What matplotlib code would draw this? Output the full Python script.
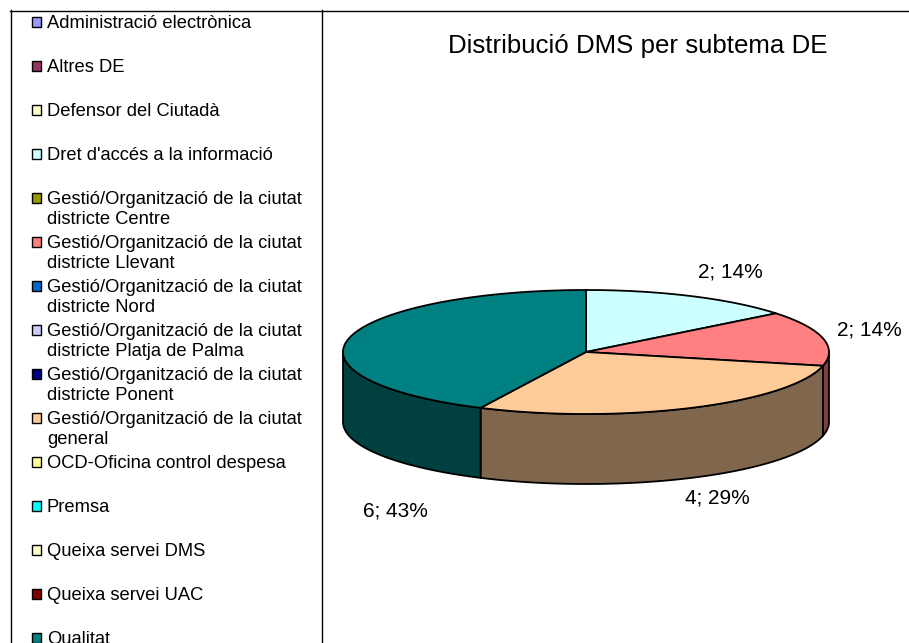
import numpy as np
import matplotlib
matplotlib.use("Agg")
import matplotlib.pyplot as plt
from matplotlib.patches import Polygon, Rectangle
from matplotlib.colors import to_rgb

# ---------------- data ----------------
title = "Distribució DMS per subtema DE"

legend_labels = [
    "Administració electrònica",
    "Altres DE",
    "Defensor del Ciutadà",
    "Dret d'accés a la informació",
    "Gestió/Organització de la ciutat\ndistricte Centre",
    "Gestió/Organització de la ciutat\ndistricte Llevant",
    "Gestió/Organització de la ciutat\ndistricte Nord",
    "Gestió/Organització de la ciutat\ndistricte Platja de Palma",
    "Gestió/Organització de la ciutat\ndistricte Ponent",
    "Gestió/Organització de la ciutat\ngeneral",
    "OCD-Oficina control despesa",
    "Premsa",
    "Queixa servei DMS",
    "Queixa servei UAC",
    "Qualitat",
]
legend_colors = [
    "#9999FF", "#993366", "#FFFFCC", "#CCFFFF", "#999900",
    "#FF8080", "#0066CC", "#CCCCFF", "#000080", "#FFCC99",
    "#FFFF99", "#00FFFF", "#FFFFCC", "#800000", "#008080",
]

pie_labels = [
    "Dret d'accés a la informació",
    "Gestió/Organització de la ciutat districte Llevant",
    "Gestió/Organització de la ciutat general",
    "Qualitat",
]
pie_values = [2, 2, 4, 6]

# ---------------- layout ----------------
W, H = 909, 643
FONT = "Liberation Sans"
cx, cy, rx, ry, depth = 586, 352, 243, 62, 70
label_pos = [(730, 272), (869, 330), (717, 498), (395, 511)]

fig = plt.figure(figsize=(W / 100, H / 100), dpi=100)
ax = fig.add_axes([0, 0, 1, 1])
ax.set_xlim(0, W)
ax.set_ylim(H, 0)
ax.axis("off")

# frame lines
ax.plot([10, W], [10.5, 10.5], color="black", lw=1)
ax.plot([10.5, 10.5], [10, H], color="black", lw=1)
ax.plot([321.5, 321.5], [10, H], color="black", lw=1)

# legend
for i, (lab, col) in enumerate(zip(legend_labels, legend_colors)):
    base = 27.5 + 44 * i
    ax.add_patch(Rectangle((31.5, base - 10.5), 9.5, 9.5, facecolor=col,
                           edgecolor="black", lw=1))
    for j, line in enumerate(lab.split("\n")):
        ax.text(47, base + 21 * j, line, fontsize=13.2, family=FONT,
                va="baseline", ha="left")

# title
ax.text(638, 53, title, fontsize=18.6, family=FONT, ha="center", va="baseline")

# pie geometry
flat = [l.replace("\n", " ") for l in legend_labels]
colors = [legend_colors[flat.index(l)] for l in pie_labels]
total = sum(pie_values)
fracs = np.array(pie_values) / total
bounds = 90 - 360 * np.concatenate([[0], np.cumsum(fracs)])


def pt(theta_deg, dy=0.0):
    t = np.radians(theta_deg)
    return cx + rx * np.cos(t), cy - ry * np.sin(t) + dy


def dark(c, f=0.5):
    r, g, b = to_rgb(c)
    return (r * f, g * f, b * f)


# sides (front half only)
for k in range(len(pie_values)):
    hi, lo = bounds[k], bounds[k + 1]
    for off in (-360, 0, 360):
        a, b = max(lo, -180 + off), min(hi, 0 + off)
        if b - a <= 0:
            continue
        th = np.linspace(a, b, 200)
        tx, ty = pt(th)
        bx, by = pt(th[::-1], depth)
        poly = np.column_stack([np.concatenate([tx, bx]),
                                np.concatenate([ty, by])])
        ax.add_patch(Polygon(poly, closed=True, facecolor=dark(colors[k]),
                             edgecolor="black", lw=1.3, joinstyle="round"))

# tops
for k in range(len(pie_values)):
    hi, lo = bounds[k], bounds[k + 1]
    th = np.linspace(hi, lo, 300)
    xs, ys = pt(th)
    poly = np.column_stack([np.concatenate([[cx], xs]),
                            np.concatenate([[cy], ys])])
    ax.add_patch(Polygon(poly, closed=True, facecolor=colors[k],
                         edgecolor="black", lw=1.3, joinstyle="round"))

# data labels
for v, f, (lx, ly) in zip(pie_values, fracs, label_pos):
    ax.text(lx, ly, f"{v}; {round(f * 100)}%", fontsize=15, family=FONT,
            ha="center", va="center")

fig.savefig("out.png", dpi=100, facecolor="white")
